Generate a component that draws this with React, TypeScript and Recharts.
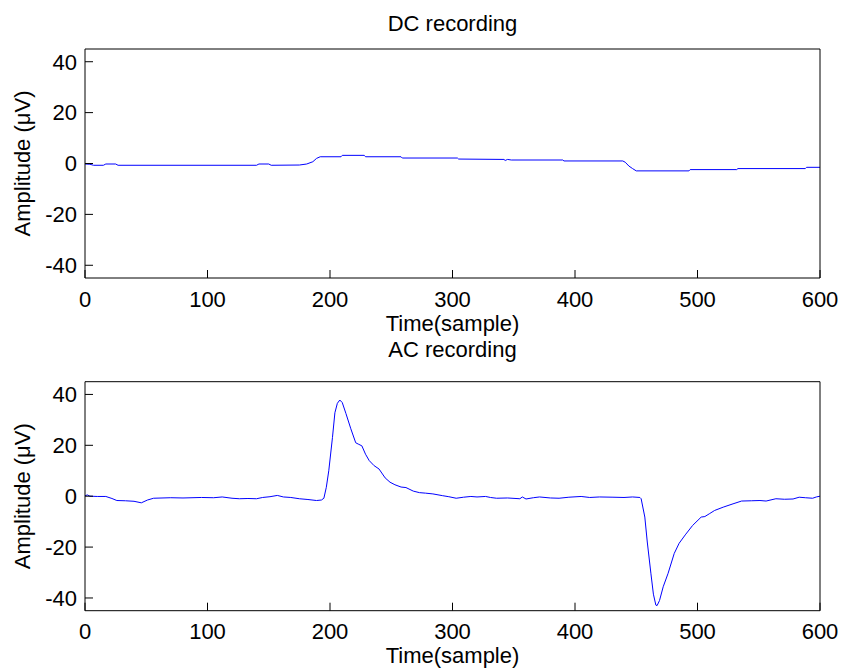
import React from 'react';
import { LineChart, Line, XAxis, YAxis } from 'recharts';

// ---- data ----
const xTicks = [0, 100, 200, 300, 400, 500, 600];
const yTicks = [-40, -20, 0, 20, 40];

const dcSamples = [0, 4, 7, 15, 17, 25, 27, 140, 142, 150, 152, 175, 181, 186, 189, 192, 209, 210, 228, 229, 258, 259, 304, 305, 342, 343, 345, 348, 390, 391, 439, 441, 444, 447, 450, 493, 494, 532, 533, 588, 589, 600];
const dcValues = [-0.2, -0.3, -0.7, -0.7, -0.2, -0.2, -0.7, -0.7, -0.2, -0.2, -0.7, -0.6, -0.2, 0.7, 2.0, 2.65, 2.65, 3.2, 3.2, 2.65, 2.65, 2.15, 2.15, 1.75, 1.6, 1.2, 1.6, 1.37, 1.37, 1.0, 1.0, 0.5, -1.0, -2.0, -2.9, -2.9, -2.4, -2.4, -2.0, -2.0, -1.5, -1.5];

const acSamples = [0, 2, 4, 10, 17, 22, 26, 33, 40, 46, 51, 56, 70, 80, 95, 105, 112, 120, 126, 133, 140, 145, 151, 157, 162, 168, 175, 182, 189, 193, 195, 197, 199, 202, 204, 206, 208, 210, 213, 217, 221, 223, 226, 229, 232, 236, 240, 245, 249, 253, 258, 262, 268, 273, 278, 284, 292, 297, 303, 309, 315, 320, 327, 331, 336, 345, 355, 357, 360, 366, 371, 380, 387, 395, 405, 412, 420, 431, 440, 447, 453, 454, 457, 459, 462, 464, 466, 467, 469, 472, 476, 481, 485, 490, 496, 503, 506, 510, 514, 521, 529, 536, 544, 551, 556, 564, 571, 578, 583, 588, 594, 597, 600];
const acValues = [0.2, 0.5, 0.0, -0.1, -0.1, -0.9, -1.7, -1.8, -2.0, -2.6, -1.5, -0.8, -0.6, -0.7, -0.5, -0.6, -0.3, -0.8, -1.0, -0.9, -1.0, -0.5, -0.2, 0.3, -0.3, -0.5, -1.0, -1.3, -1.7, -1.5, -0.8, 3.5, 10, 23, 32.8, 36.5, 37.8, 36.8, 32.5, 26.5, 21, 20.5, 19.8, 16.5, 14, 12, 10.7, 7.2, 5.5, 4.5, 3.6, 3.4, 2.0, 1.4, 1.2, 0.9, 0.2, -0.2, -0.8, -0.4, -0.1, -0.3, -0.1, -0.5, -0.8, -0.7, -1.0, -0.3, -1.1, -0.6, -0.3, -0.7, -0.8, -0.4, -0.1, -0.5, -0.3, -0.4, -0.5, -0.3, -0.5, -1.0, -8.2, -18, -30.5, -38.5, -42.8, -43, -41, -35.6, -30.3, -22.5, -18.5, -15.2, -11.5, -8.2, -8.0, -6.8, -5.6, -4.3, -3.0, -1.9, -1.8, -1.7, -1.9, -1.0, -1.2, -1.1, -0.4, -0.6, -0.8, -0.3, 0];

const dcData = dcSamples.map((t, i) => ({ t, v: dcValues[i] }));
const acData = acSamples.map((t, i) => ({ t, v: acValues[i] }));

const FONT = '"Liberation Sans", Arial, Helvetica, sans-serif';
const INK = '#000';
const FS = 22;

type PanelProps = {
  title: string;
  data: { t: number; v: number }[];
  height: number;
  marginTop: number;
  marginBottom: number;
  titleOffset: number;
};

function Panel({ title, data, height, marginTop, marginBottom, titleOffset }: PanelProps) {
  const tickStyle = { fontSize: FS, fill: INK, fontFamily: FONT };
  return (
    <LineChart
      width={842}
      height={height}
      data={data}
      margin={{ top: marginTop, right: 21, bottom: marginBottom, left: 0 }}
      style={{ fontFamily: FONT }}
    >
      <XAxis
        dataKey="t"
        type="number"
        domain={[0, 600]}
        ticks={xTicks}
        interval={0}
        height={57}
        tickSize={-8}
        tickMargin={21}
        tick={tickStyle}
        axisLine={{ stroke: INK }}
        tickLine={{ stroke: INK }}
        label={{ value: 'Time(sample)', position: 'insideBottom', offset: 4.3, fontSize: FS, fill: INK, fontFamily: FONT }}
      />
      <XAxis
        xAxisId="top"
        orientation="top"
        type="number"
        domain={[0, 600]}
        ticks={xTicks}
        interval={0}
        height={1}
        tickSize={-8}
        tick={false}
        axisLine={{ stroke: INK }}
        tickLine={{ stroke: INK }}
        label={{ value: title, position: 'top', offset: titleOffset, fontSize: FS, fill: INK, fontFamily: FONT }}
      />
      <YAxis
        type="number"
        domain={[-45, 45]}
        ticks={yTicks}
        interval={0}
        width={85}
        tickSize={-8}
        tickMargin={16}
        tick={tickStyle}
        axisLine={{ stroke: INK }}
        tickLine={{ stroke: INK }}
        allowDataOverflow
        label={{ value: 'Amplitude (\u03BCV)', angle: -90, position: 'insideLeft', offset: 22.5, fontSize: FS, fill: INK, fontFamily: FONT, style: { textAnchor: 'middle' } }}
      />
      <YAxis
        yAxisId="right"
        orientation="right"
        type="number"
        domain={[-45, 45]}
        ticks={yTicks}
        interval={0}
        width={1}
        tickSize={-8}
        tick={false}
        axisLine={{ stroke: INK }}
        tickLine={{ stroke: INK }}
      />
      <Line
        type="linear"
        dataKey="v"
        stroke="#0000ff"
        strokeWidth={1}
        dot={false}
        activeDot={false}
        isAnimationActive={false}
      />
    </LineChart>
  );
}

export default function App() {
  return (
    <div style={{ position: 'absolute', left: 0, top: 0, width: 842, height: 671, background: '#fff' }}>
      <Panel title="DC recording" data={dcData} height={337} marginTop={48} marginBottom={2} titleOffset={17} />
      <Panel title="AC recording" data={acData} height={334} marginTop={43.7} marginBottom={3.3} titleOffset={24} />
    </div>
  );
}
